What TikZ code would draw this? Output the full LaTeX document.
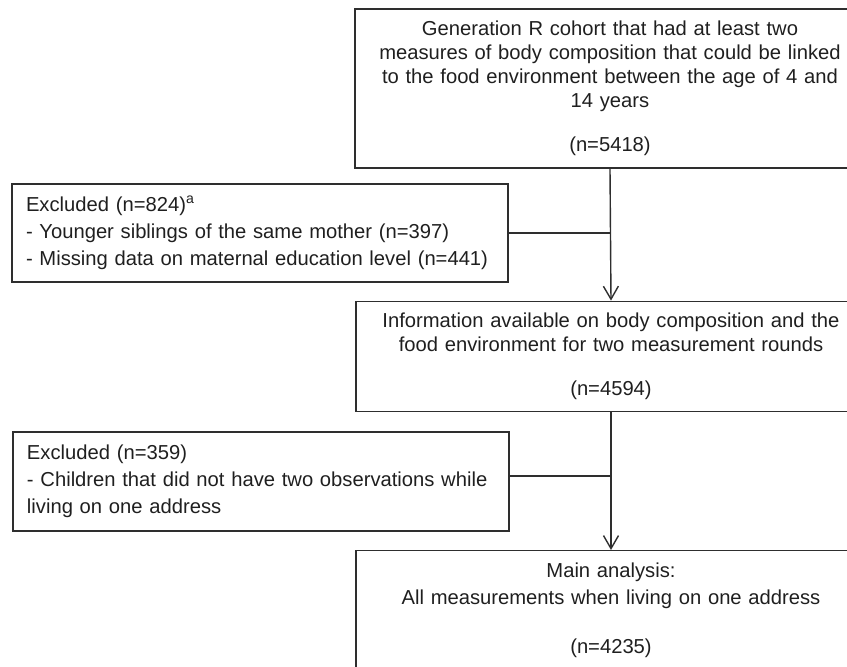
\documentclass[tikz,border=0pt]{standalone}
\usepackage{fontspec}
\setmainfont{Liberation Sans}
\usepackage{tikz}
\usetikzlibrary{calc, arrows.meta}

\begin{document}
\begin{tikzpicture}[x=1pt, y=1pt,
    every node/.style={font=\fontsize{20.2}{23.8}\selectfont, text=black!88},
    flowbox/.style={draw=black!82, line width=1.4pt, inner ysep=12pt},
    mainstep/.style={flowbox, inner xsep=16pt, text width=478pt, align=center},
    excl/.style={flowbox, inner xsep=14pt, text width=468pt, align=left},
    spine/.style={draw=black!82, line width=1.4pt},
    flow/.style={spine, -{Straight Barb[length=13pt, width=15pt]}}]
      \useasboundingbox (0,0) rectangle (847,667);
      \clip (0,0) rectangle (847,667);
      % boxes on the main line
      \node[mainstep, minimum height=159pt] (cohort) at (610,578.5)
          {Generation R cohort that had at least two\\
           measures of body composition that could be linked\\
           to the food environment between the age of 4 and\\
           14 years\\[21pt]
           (n=5418)};
      \node[mainstep, minimum height=107pt] (info) at (611,310.5)
          {Information available on body composition and the\\
           food environment for two measurement rounds\\[20pt]
           (n=4594)};
      \node[mainstep, anchor=north] (analysis) at (611,117)
          {Main analysis:\\[3.2pt]
           All measurements when living on one address\\[25pt]
           (n=4235)};
      % exclusions
      \node[excl, minimum height=98pt] (excl1) at (260,434)
          {Excluded (n=824)\textsuperscript{a}\\[3.2pt]
           - Younger siblings of the same mother (n=397)\\[3.2pt]
           - Missing data on maternal education level (n=441)};
      \node[excl, minimum height=99pt] (excl2) at (261,185.5)
          {Excluded (n=359)\\[3.2pt]
           - Children that did not have two observations while\\[3.2pt]
           living on one address};
      % connectors
      \draw[flow] (cohort.south) -- (info.north);
      \draw[flow] (info.south) -- (analysis.north);
      \draw[spine] (excl1.east) -- (excl1.east -| cohort.south);
      \draw[spine] ([yshift=5.5pt]excl2.east) -- ([yshift=5.5pt]excl2.east -| info.south);
\end{tikzpicture}
\end{document}
